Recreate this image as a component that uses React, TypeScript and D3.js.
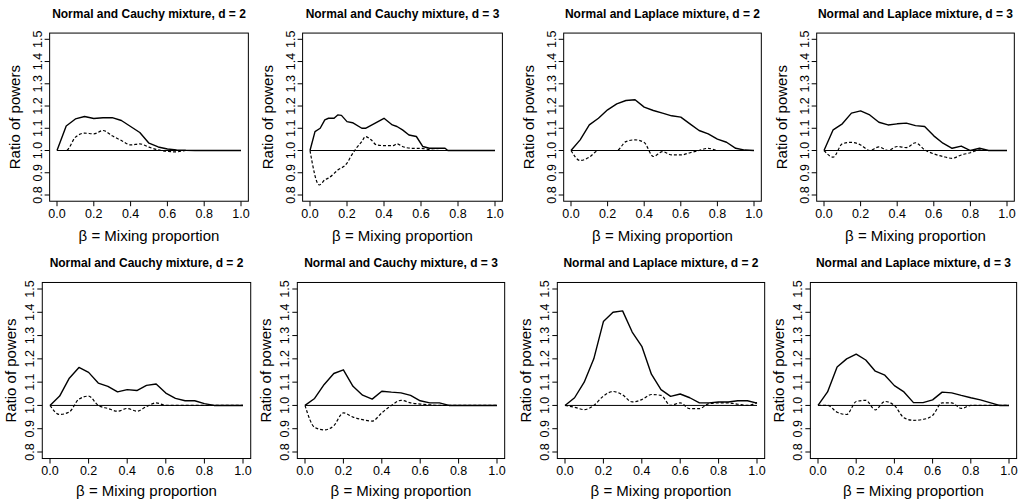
import React from 'react';
import * as d3 from 'd3';

// mixing proportion grid used by most panels
const betaGrid = [0, 0.05, 0.1, 0.15, 0.2, 0.25, 0.3, 0.35, 0.4, 0.45, 0.5, 0.55, 0.6, 0.65, 0.7, 0.75, 0.8, 0.85, 0.9, 0.95, 1.0];

const titles = [
  'Normal and Cauchy mixture, d = 2',
  'Normal and Cauchy mixture, d = 3',
  'Normal and Laplace mixture, d = 2',
  'Normal and Laplace mixture, d = 3',
  'Normal and Cauchy mixture, d = 2',
  'Normal and Cauchy mixture, d = 3',
  'Normal and Laplace mixture, d = 2',
  'Normal and Laplace mixture, d = 3',
];

const xTicks = [0, 0.2, 0.4, 0.6, 0.8, 1.0];
const yTicks = [0.8, 0.9, 1.0, 1.1, 1.2, 1.3, 1.4, 1.5];

// top row
const cauchy2Solid = [1.0, 1.11, 1.142, 1.153, 1.144, 1.147, 1.148, 1.135, 1.108, 1.081, 1.033, 1.016, 1.007, 1.003, 1.001, 1.0, 1.0, 1.0, 1.0, 1.0, 1.0];
const cauchy2Dashed = [1.0, 1.0, 1.06, 1.078, 1.075, 1.09, 1.066, 1.045, 1.025, 1.03, 1.015, 1.003, 0.996, 0.994, 1.0, 1.0, 1.0, 1.0, 1.0, 1.0, 1.0];

const cauchy3SolidX = [0, 0.027, 0.055, 0.08, 0.1, 0.13, 0.15, 0.17, 0.2, 0.23, 0.28, 0.3, 0.4, 0.445, 0.47, 0.5, 0.535, 0.575, 0.61, 0.645, 0.73, 0.745, 0.8, 0.9, 1.0];
const cauchy3Solid = [1.0, 1.085, 1.1, 1.138, 1.145, 1.145, 1.16, 1.158, 1.13, 1.125, 1.1, 1.1, 1.145, 1.115, 1.108, 1.093, 1.07, 1.063, 1.018, 1.01, 1.01, 1.0, 1.0, 1.0, 1.0];
const cauchy3DashedX = [0, 0.05, 0.08, 0.1, 0.15, 0.2, 0.22, 0.25, 0.28, 0.3, 0.33, 0.36, 0.4, 0.45, 0.47, 0.5, 0.55, 0.6, 0.65, 0.7, 0.8, 0.9, 1.0];
const cauchy3Dashed = [1.0, 0.845, 0.868, 0.876, 0.912, 0.943, 0.972, 1.01, 1.04, 1.063, 1.048, 1.025, 1.022, 1.022, 1.03, 1.018, 1.01, 1.01, 1.003, 1.0, 1.0, 1.0, 1.0];

const laplace2Solid = [1.0, 1.048, 1.115, 1.145, 1.183, 1.21, 1.225, 1.228, 1.195, 1.18, 1.168, 1.156, 1.15, 1.12, 1.09, 1.075, 1.051, 1.037, 1.01, 1.002, 1.0];
const laplace2Dashed = [1.0, 0.955, 0.97, 1.0, 1.0, 1.0, 1.04, 1.048, 1.036, 0.973, 0.995, 0.98, 0.98, 0.99, 1.0, 1.01, 1.0, 1.0, 1.0, 1.0, 1.0];

const laplace3Solid = [1.0, 1.093, 1.12, 1.168, 1.178, 1.16, 1.127, 1.115, 1.12, 1.123, 1.112, 1.108, 1.066, 1.033, 1.01, 1.02, 1.0, 1.01, 1.0, 1.0, 1.0];
const laplace3Dashed = [1.0, 0.97, 1.03, 1.037, 1.025, 1.0, 1.016, 1.0, 1.018, 1.013, 1.035, 1.003, 0.985, 0.973, 0.965, 0.98, 0.99, 1.003, 1.0, 1.0, 1.0];

// bottom row
const cauchy2bSolid = [1.0, 1.04, 1.117, 1.163, 1.142, 1.096, 1.082, 1.058, 1.068, 1.064, 1.086, 1.092, 1.053, 1.03, 1.02, 1.02, 1.008, 1.0, 1.0, 1.0, 1.0];
const cauchy2bDashed = [1.0, 0.961, 0.972, 1.027, 1.04, 1.0, 0.987, 0.975, 0.987, 0.975, 0.995, 1.011, 1.0, 1.0, 1.0, 1.0, 1.0, 1.0, 1.0, 1.0, 1.0];

const cauchy3bSolid = [1.0, 1.03, 1.09, 1.137, 1.153, 1.082, 1.044, 1.027, 1.061, 1.057, 1.054, 1.043, 1.02, 1.011, 1.011, 1.0, 1.0, 1.0, 1.0, 1.0, 1.0];
const cauchy3bDashed = [1.0, 0.906, 0.895, 0.913, 0.968, 0.95, 0.939, 0.933, 0.968, 1.0, 1.022, 1.011, 1.006, 1.003, 1.0, 1.0, 1.0, 1.0, 1.0, 1.0, 1.0];

const laplace2bSolid = [1.0, 1.033, 1.1, 1.2, 1.36, 1.4, 1.406, 1.315, 1.254, 1.134, 1.068, 1.039, 1.049, 1.033, 1.011, 1.011, 1.015, 1.015, 1.02, 1.02, 1.01];
const laplace2bDashed = [1.0, 0.992, 0.982, 1.0, 1.04, 1.06, 1.045, 1.015, 1.025, 1.047, 1.043, 1.0, 1.011, 0.986, 0.986, 1.008, 1.011, 1.011, 1.005, 1.0, 1.012];

const laplace3bSolid = [1.0, 1.058, 1.165, 1.2, 1.22, 1.195, 1.147, 1.13, 1.085, 1.058, 1.012, 1.012, 1.024, 1.057, 1.054, 1.043, 1.033, 1.024, 1.012, 1.0, 1.0];
const laplace3bDashed = [1.0, 1.0, 0.971, 0.961, 1.017, 1.022, 0.981, 1.017, 1.0, 0.947, 0.936, 0.94, 0.957, 1.011, 1.011, 0.987, 1.0, 1.0, 1.0, 1.0, 1.0];

const panels = [
  { solidX: betaGrid, solid: cauchy2Solid, dashedX: betaGrid, dashed: cauchy2Dashed },
  { solidX: cauchy3SolidX, solid: cauchy3Solid, dashedX: cauchy3DashedX, dashed: cauchy3Dashed },
  { solidX: betaGrid, solid: laplace2Solid, dashedX: betaGrid, dashed: laplace2Dashed },
  { solidX: betaGrid, solid: laplace3Solid, dashedX: betaGrid, dashed: laplace3Dashed },
  { solidX: betaGrid, solid: cauchy2bSolid, dashedX: betaGrid, dashed: cauchy2bDashed },
  { solidX: betaGrid, solid: cauchy3bSolid, dashedX: betaGrid, dashed: cauchy3bDashed },
  { solidX: betaGrid, solid: laplace2bSolid, dashedX: betaGrid, dashed: laplace2bDashed },
  { solidX: betaGrid, solid: laplace3bSolid, dashedX: betaGrid, dashed: laplace3bDashed },
];

// pixel positions of beta = 0 / 1 and ratio = 1.5 / 0.8 for each panel
const layout = [
  { x0: 57, x1: 241, y15: 39.3, y08: 195, ylab: 30, xl: 17, xt: 40 },
  { x0: 310, x1: 495, y15: 39.3, y08: 195, ylab: 30, xl: 17, xt: 40 },
  { x0: 571, x1: 754, y15: 39.3, y08: 195, ylab: 30, xl: 17, xt: 40 },
  { x0: 824, x1: 1007, y15: 39.3, y08: 195, ylab: 30, xl: 17, xt: 40 },
  { x0: 50, x1: 243, y15: 289, y08: 452, ylab: 26, xl: 16, xt: 37 },
  { x0: 305, x1: 497, y15: 289, y08: 452, ylab: 26, xl: 16, xt: 37 },
  { x0: 565, x1: 757, y15: 289, y08: 452, ylab: 26, xl: 16, xt: 37 },
  { x0: 818, x1: 1009, y15: 289, y08: 452, ylab: 26, xl: 16, xt: 37 },
];

const font = '"Liberation Sans", Arial, Helvetica, sans-serif';

const Panel = ({ idx }: { idx: number }) => {
  const p = panels[idx];
  const l = layout[idx];
  const x = d3.scaleLinear().domain([0, 1]).range([l.x0, l.x1]);
  const y = d3.scaleLinear().domain([0.8, 1.5]).range([l.y08, l.y15]);

  // R style 4% padding around the data range
  const bx0 = x(-0.04);
  const bx1 = x(1.04);
  const by0 = y(1.528);
  const by1 = y(0.772);

  const line = d3.line<[number, number]>().x(d => x(d[0])).y(d => y(d[1]));
  const smooth = d3.line<[number, number]>().x(d => x(d[0])).y(d => y(d[1])).curve(d3.curveMonotoneX);

  const solidPts = p.solidX.map((v, i) => [v, p.solid[i]] as [number, number]);
  const dashedPts = p.dashedX.map((v, i) => [v, p.dashed[i]] as [number, number]);

  return (
    <g>
      <text x={(bx0 + bx1) / 2} y={by0 - 15} textAnchor="middle" fontSize={12} fontWeight="bold" fontFamily={font}>
        {titles[idx]}
      </text>
      <rect x={bx0} y={by0} width={bx1 - bx0} height={by1 - by0} fill="none" stroke="#000" strokeWidth={1} />
      {xTicks.map(t => (
        <g key={'x' + t}>
          <line x1={x(t)} x2={x(t)} y1={by1} y2={by1 + 5} stroke="#000" />
          <text x={x(t)} y={by1 + l.xl} textAnchor="middle" fontSize={12.5} fontFamily={font}>
            {t.toFixed(1)}
          </text>
        </g>
      ))}
      {yTicks.map(t => (
        <g key={'y' + t}>
          <line x1={bx0 - 5} x2={bx0} y1={y(t)} y2={y(t)} stroke="#000" />
          <text
            transform={`translate(${bx0 - 8},${y(t)}) rotate(-90)`}
            textAnchor="middle"
            fontSize={12.5}
            fontFamily={font}
          >
            {t.toFixed(1)}
          </text>
        </g>
      ))}
      <text x={(bx0 + bx1) / 2} y={by1 + l.xt} textAnchor="middle" fontSize={15} fontFamily={font}>
        {'\u03B2 = Mixing proportion'}
      </text>
      <text
        transform={`translate(${bx0 - l.ylab},${(by0 + by1) / 2}) rotate(-90)`}
        textAnchor="middle"
        fontSize={15}
        fontFamily={font}
      >
        Ratio of powers
      </text>
      <line x1={x(0)} x2={x(1)} y1={y(1)} y2={y(1)} stroke="#000" strokeWidth={1} />
      <path d={smooth(dashedPts) || ''} fill="none" stroke="#000" strokeWidth={1.2} strokeDasharray="3,2" />
      <path d={line(solidPts) || ''} fill="none" stroke="#000" strokeWidth={1.4} strokeLinejoin="round" />
    </g>
  );
};

export default function App() {
  return (
    <div style={{ position: 'absolute', left: 0, top: 0 }}>
      <svg width={1018} height={501} style={{ display: 'block', background: '#fff' }}>
        {panels.map((_, i) => (
          <Panel key={i} idx={i} />
        ))}
      </svg>
    </div>
  );
}
